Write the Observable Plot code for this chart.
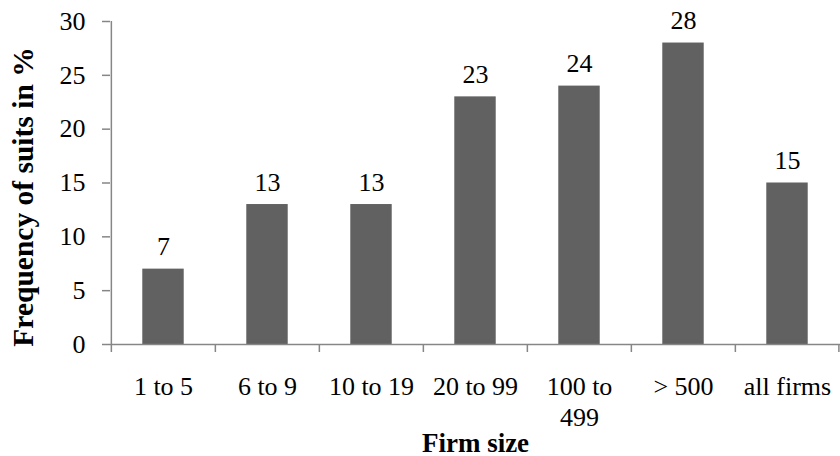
<!DOCTYPE html>
<html>
<head>
<meta charset="utf-8">
<script src="https://cdn.jsdelivr.net/npm/d3@7"></script>
<script src="https://cdn.jsdelivr.net/npm/@observablehq/plot@0.6"></script>
<style>
  html, body { margin: 0; padding: 0; background: #fff; }
</style>
</head>
<body>
<div id="chart"></div>
<script>
// Frequency of suits by firm size
const categories = ["1 to 5", "6 to 9", "10 to 19", "20 to 99", "100 to 499", "> 500", "all firms"];
const tickLabels = ["1 to 5", "6 to 9", "10 to 19", "20 to 99", "100 to\n499", "> 500", "all firms"];
const values = [7, 13, 13, 23, 24, 28, 15];
const yTicks = [0, 5, 10, 15, 20, 25, 30];

const data = categories.map((c, i) => ({category: c, value: values[i]}));
const labelOf = new Map(categories.map((c, i) => [c, tickLabels[i]]));

const width = 840, height = 456;
const marginLeft = 110, marginRight = 0, marginTop = 21, marginBottom = 112;
const band = (width - marginLeft - marginRight) / categories.length;
const axisGray = "#868686";
const font = "'Liberation Serif', 'Times New Roman', serif";

const chart = Plot.plot({
  width, height, marginLeft, marginRight, marginTop, marginBottom,
  style: {fontFamily: font, fontSize: "26px", color: "#000", background: "#fff"},
  x: {domain: categories, padding: 0, label: null},
  y: {domain: [0, 30], label: null},
  marks: [
    Plot.barY(data, {x: "category", y: "value", fill: "#616161", insetLeft: band * 0.3, insetRight: band * 0.3}),
    Plot.text(data, {x: "category", y: "value", text: d => String(d.value), lineAnchor: "bottom", dy: -14, fontSize: 26}),
    // y axis: line, ticks, labels
    Plot.ruleX([0], {x: () => categories[0], dx: -band / 2, y1: 0, y2: 30, stroke: axisGray, strokeWidth: 1.5}),
    Plot.axisY({ticks: yTicks, tickSize: 8, tickPadding: 17, stroke: axisGray, strokeWidth: 1.5, fontSize: 26, label: null}),
    // x axis baseline and category boundary ticks
    Plot.ruleY([0], {stroke: axisGray, strokeWidth: 1.5}),
    Plot.axisX({tickSize: 8, text: null, dx: -band / 2, stroke: axisGray, strokeWidth: 1.5, label: null}),
    Plot.axisX([categories[categories.length - 1]], {tickSize: 8, text: null, dx: band / 2 - 0.75, stroke: axisGray, strokeWidth: 1.5, label: null}),
    Plot.axisX({tickSize: 0, tickPadding: 28, tickFormat: d => labelOf.get(d), lineHeight: 1.2, fontSize: 26, label: null}),
    // axis titles
    Plot.text(["Firm size"], {frameAnchor: "bottom", dy: 107, lineAnchor: "bottom", fontWeight: "bold", fontSize: 27}),
    Plot.text(["Frequency of suits in %"], {frameAnchor: "left", textAnchor: "middle", dx: -87, dy: 14, rotate: -90, fontWeight: "bold", fontSize: 29.5})
  ]
});

document.getElementById("chart").append(chart);
</script>
</body>
</html>
